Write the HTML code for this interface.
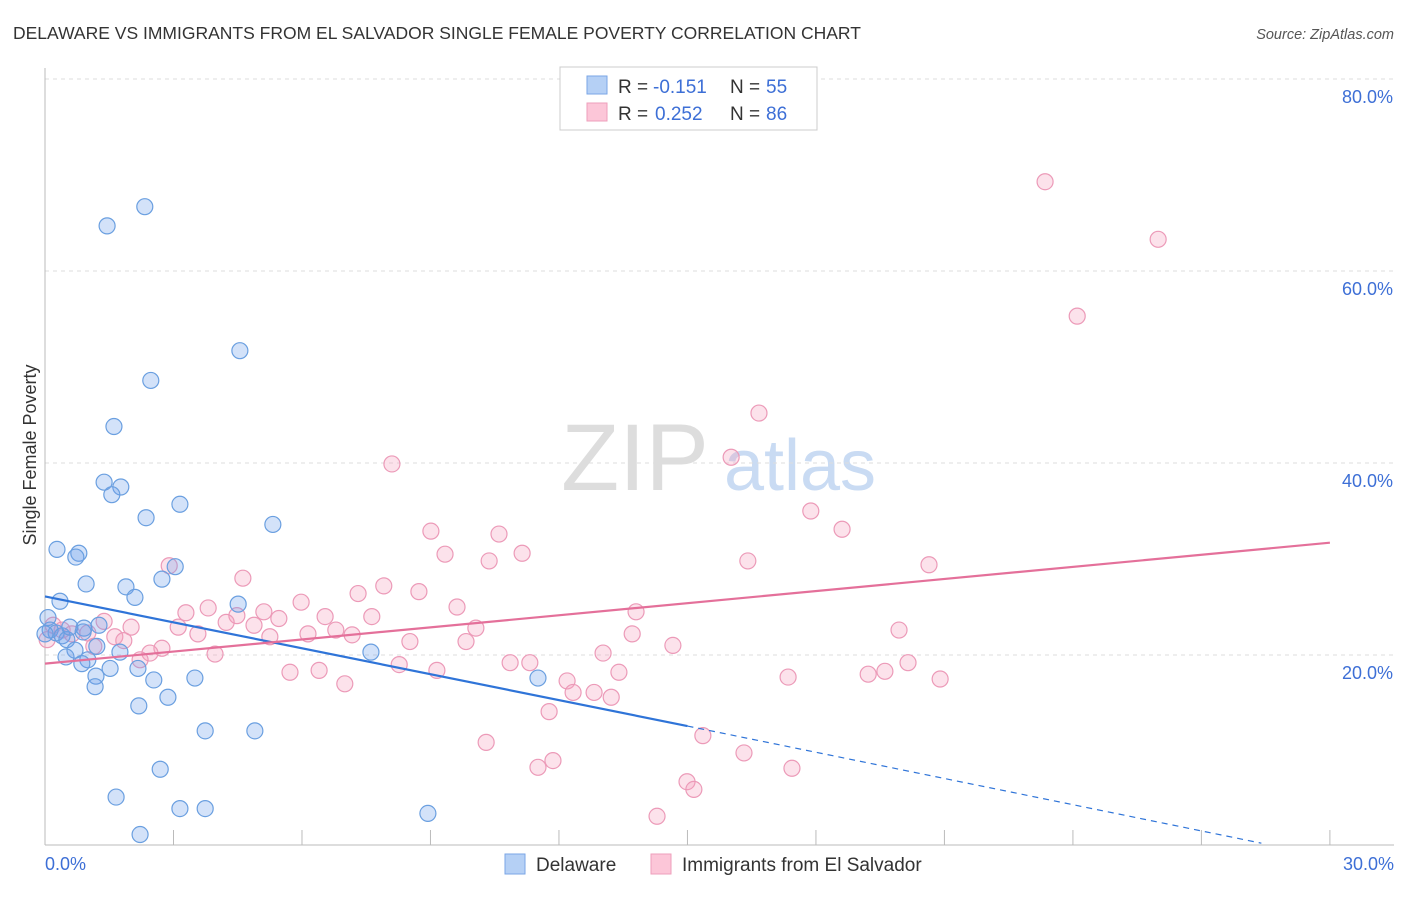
<!DOCTYPE html>
<html><head><meta charset="utf-8"><style>
body{margin:0;background:#fff;font-family:"Liberation Sans",sans-serif}
svg text{font-family:"Liberation Sans",sans-serif}
</style></head><body>
<svg id="c" width="1406" height="892" xmlns="http://www.w3.org/2000/svg">
<text x="13" y="39" font-size="17.5" fill="#333">DELAWARE VS IMMIGRANTS FROM EL SALVADOR SINGLE FEMALE POVERTY CORRELATION CHART</text>
<text x="1394" y="39" font-size="14.5" fill="#555" font-style="italic" text-anchor="end">Source: ZipAtlas.com</text>
<text x="635" y="490" font-size="95" fill="#ddd" font-family="Liberation Serif" text-anchor="middle">ZIP</text>
<text x="800" y="490" font-size="72" fill="#c9dbf3" text-anchor="middle">atlas</text>
<text x="36" y="455" font-size="18" fill="#333" text-anchor="middle" transform="rotate(-90 36 455)">Single Female Poverty</text>
<g id="grid"></g><g id="axes"></g><g id="pts"></g><g id="lines"></g>
<g>
<rect x="560" y="67" width="257" height="63" fill="#fff" stroke="#ccc"/>
<rect x="587" y="76" width="20" height="18" fill="#b5d0f5" stroke="#7aa6e6"/>
<rect x="587" y="103" width="20" height="18" fill="#fcc6d8" stroke="#ee9fbb"/>
<text x="618" y="93" font-size="19" fill="#333">R =</text>
<text x="653" y="93" font-size="19" fill="#3d6fd6">-0.151</text>
<text x="730" y="93" font-size="19" fill="#333">N =</text>
<text x="766" y="93" font-size="19" fill="#3d6fd6">55</text>
<text x="618" y="120" font-size="19" fill="#333">R =</text>
<text x="655" y="120" font-size="19" fill="#3d6fd6">0.252</text>
<text x="730" y="120" font-size="19" fill="#333">N =</text>
<text x="766" y="120" font-size="19" fill="#3d6fd6">86</text>
</g>
<g>
<rect x="505" y="854" width="20" height="20" fill="#b5d0f5" stroke="#7aa6e6"/>
<text x="536" y="871" font-size="19" fill="#333">Delaware</text>
<rect x="651" y="854" width="20" height="20" fill="#fcc6d8" stroke="#ee9fbb"/>
<text x="682" y="871" font-size="19" fill="#333">Immigrants from El Salvador</text>
</g>
</svg>
<script>
const blueX=[1.45,2.33,4.55,2.47,1.61,1.38,1.77,1.56,3.15,2.36,5.32,0.28,0.79,0.72,0.96,1.89,2.73,3.04,0.35,2.10,4.51,0.07,0.12,0.26,0.40,0.51,0.58,0.91,1.26,0.89,1.21,0.70,0.49,1.00,1.75,0.86,1.52,2.17,1.19,2.54,3.50,1.17,2.87,2.19,3.74,4.90,7.61,11.51,2.69,1.66,3.15,3.74,8.94,2.22,0.0];
const blueY=[64.7,66.7,51.7,48.6,43.8,38.0,37.5,36.7,35.7,34.3,33.6,31.0,30.6,30.2,27.4,27.1,27.9,29.2,25.6,26.0,25.3,23.9,22.6,22.3,22.0,21.6,22.9,22.8,23.1,22.4,20.9,20.5,19.8,19.5,20.3,19.1,18.6,18.6,17.8,17.4,17.6,16.7,15.6,14.7,12.1,12.1,20.3,17.6,8.1,5.2,4.0,4.0,3.5,1.3,22.2];
const pinkX=[23.35,25.99,24.10,16.67,16.02,8.10,17.88,18.61,9.01,10.60,9.34,11.14,10.37,16.41,20.64,2.90,4.62,7.91,7.31,8.73,5.98,3.81,3.29,5.11,13.80,9.62,6.54,7.63,4.48,5.46,4.23,4.88,1.38,2.01,3.11,0.19,0.40,0.05,0.63,1.00,1.63,1.84,1.14,3.57,6.14,6.79,7.17,5.25,10.06,13.71,19.94,9.83,8.52,14.66,2.73,2.45,3.97,2.22,13.03,10.86,11.32,8.27,13.40,5.72,6.40,9.15,12.19,17.35,19.22,19.61,20.15,20.90,7.00,12.33,12.82,13.22,11.77,15.36,10.30,16.32,11.86,11.51,17.44,14.99,15.15,14.29];
const pinkY=[69.3,63.3,55.3,45.2,40.6,39.9,35.0,33.1,32.9,32.6,30.5,30.6,29.8,29.8,29.4,29.3,28.0,27.2,26.4,26.6,25.5,24.9,24.4,24.5,24.5,25.0,24.0,24.0,24.1,23.8,23.4,23.1,23.5,22.9,22.9,23.1,22.6,21.6,22.2,22.3,21.9,21.5,20.9,22.2,22.2,22.6,22.1,21.9,22.8,22.2,22.6,21.4,21.4,21.0,20.7,20.2,20.1,19.5,20.2,19.2,19.2,19.0,18.2,18.2,18.4,18.4,17.3,17.7,18.0,18.3,19.2,17.5,17.0,16.1,16.1,15.6,14.1,11.6,10.9,9.8,9.0,8.3,8.2,6.8,6.0,3.2];
const yTicks=[20,40,60,80];
const yTickLabels=["20.0%","40.0%","60.0%","80.0%"];
const blueLine=[[0,26.1],[15,12.6],[28.4,0.4]];
const pinkLine=[[0,19.1],[30,31.7]];
const X=v=>45+v*42.83, Y=v=>847-v*9.6;
const NS="http://www.w3.org/2000/svg";
function mk(t,a,p){const e=document.createElementNS(NS,t);for(const k in a)e.setAttribute(k,a[k]);document.getElementById(p).appendChild(e);return e;}
yTicks.forEach((t,i)=>{
 const g=mk('line',{x1:45,x2:1394,y1:Y(t),y2:Y(t),stroke:'#ddd','stroke-dasharray':'4,4'},'grid');
 
 
 const l=mk('text',{x:1393,y:Y(t)+24,'font-size':18,fill:'#3d6fd6','text-anchor':'end'},'axes');
 l.textContent=yTickLabels[i];
 
 
});
mk('line',{x1:45,x2:45,y1:68,y2:845,stroke:'#bbb'},'axes');
mk('line',{x1:45,x2:1394,y1:845,y2:845,stroke:'#bbb'},'axes');
for(let i=0;i<=10;i++){const t=mk('line',{x1:X(i*3),x2:X(i*3),y1:830,y2:845,stroke:'#bbb'},'axes');
 
 }
let a=mk('text',{x:45,y:870,'font-size':18,fill:'#3d6fd6'},'axes');a.textContent='0.0%';

a=mk('text',{x:1394,y:870,'font-size':18,fill:'#3d6fd6','text-anchor':'end'},'axes');a.textContent='30.0%';

function pts(xs,ys,f,s,n){xs.forEach((x,i)=>{const c=mk('circle',{cx:X(x),cy:Y(ys[i]),r:8,fill:f,stroke:s,'stroke-width':1.2},'pts');
 
 });}
pts(pinkX,pinkY,'rgba(245,160,190,0.3)','#ec9ab8','el-salvador-point');
pts(blueX,blueY,'rgba(110,160,235,0.3)','#6a9fe0','delaware-point');
let l1=mk('line',{x1:X(blueLine[0][0]),y1:Y(blueLine[0][1]),x2:X(blueLine[1][0]),y2:Y(blueLine[1][1]),stroke:'#2f74d8','stroke-width':2.2},'lines');

let l2=mk('line',{x1:X(blueLine[1][0]),y1:Y(blueLine[1][1]),x2:X(blueLine[2][0]),y2:Y(blueLine[2][1]),stroke:'#2f74d8','stroke-width':1.2,'stroke-dasharray':'6,5'},'lines');

let l3=mk('line',{x1:X(pinkLine[0][0]),y1:Y(pinkLine[0][1]),x2:X(pinkLine[1][0]),y2:Y(pinkLine[1][1]),stroke:'#e4709a','stroke-width':2.2},'lines');

</script>
</body></html>
